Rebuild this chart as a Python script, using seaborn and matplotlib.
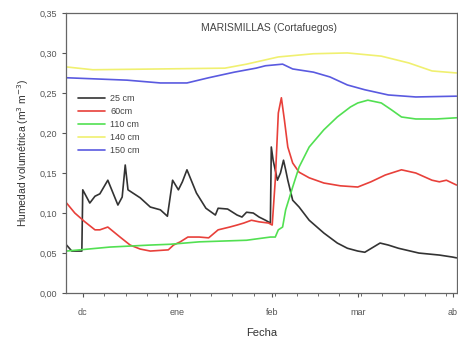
import numpy as np
import pandas as pd
import matplotlib
matplotlib.use("Agg")
import matplotlib.pyplot as plt
import seaborn as sns

# --- datos (día desde el 1 de diciembre, humedad m3/m3) ---
dia_25 = [-5.3, -3.6, -1.0, -0.3, 0.0, 2.3, 4.0, 5.6, 8.2, 11.5, 12.9, 13.9, 14.8, 18.8,
          22.1, 25.4, 27.7, 29.4, 31.3, 32.6, 34.1, 37.2, 40.3, 43.4, 44.3, 47.4, 50.5,
          52.1, 53.6, 55.8, 57.7, 59.8, 61.4, 61.7, 62.3, 63.7, 64.7, 65.7, 66.4, 67.1,
          68.7, 70.8, 74.1, 78.9, 83.3, 86.6, 90.0, 92.3, 97.3, 100.0, 103.3, 110.0,
          116.7, 121.0, 122.3]
hum_25 = [0.060, 0.0525, 0.0525, 0.0525, 0.129, 0.1125, 0.121, 0.124, 0.141, 0.110, 0.120,
          0.160, 0.129, 0.119, 0.1075, 0.104, 0.096, 0.141, 0.129, 0.139, 0.154, 0.125,
          0.106, 0.0975, 0.106, 0.105, 0.0975, 0.095, 0.101, 0.100, 0.095, 0.091, 0.0875,
          0.1825, 0.166, 0.141, 0.150, 0.166, 0.154, 0.141, 0.116, 0.1075, 0.091, 0.075,
          0.0625, 0.056, 0.0525, 0.051, 0.0625, 0.060, 0.056, 0.050, 0.0475, 0.045, 0.044]

dia_60 = [-5.3, -2.6, 0.7, 4.0, 5.6, 8.2, 12.2, 15.5, 18.8, 22.1, 28.0, 29.7, 31.9, 34.4,
          38.1, 41.2, 44.3, 48.1, 50.5, 52.7, 55.2, 57.7, 60.8, 62.0, 63.0, 64.0, 65.0,
          66.0, 67.1, 68.7, 70.8, 74.1, 78.9, 84.3, 90.0, 94.3, 99.0, 104.3, 109.0, 114.3,
          116.7, 119.0, 122.3]
hum_60 = [0.1125, 0.100, 0.089, 0.079, 0.079, 0.0825, 0.070, 0.060, 0.055, 0.0525, 0.054,
          0.060, 0.064, 0.070, 0.070, 0.069, 0.079, 0.0825, 0.085, 0.0875, 0.091, 0.089,
          0.0875, 0.085, 0.141, 0.225, 0.244, 0.216, 0.1825, 0.1625, 0.151, 0.144, 0.1375,
          0.134, 0.1325, 0.139, 0.1475, 0.154, 0.150, 0.141, 0.139, 0.141, 0.135]

dia_110 = [-5.3, -1.0, 8.9, 22.1, 28.7, 38.1, 53.6, 61.4, 63.0, 64.0, 65.4, 66.4, 68.7,
           70.8, 74.1, 78.9, 83.3, 87.6, 90.0, 93.3, 97.7, 101.0, 104.3, 109.0, 115.7, 122.3]
hum_110 = [0.0525, 0.054, 0.0575, 0.060, 0.061, 0.064, 0.066, 0.070, 0.070, 0.079, 0.0825,
           0.104, 0.1325, 0.1575, 0.1825, 0.204, 0.220, 0.2325, 0.2375, 0.241, 0.2375,
           0.229, 0.220, 0.2175, 0.2175, 0.219]

dia_140 = [-5.3, 3.3, 25.4, 46.5, 53.6, 64.0, 75.5, 86.6, 97.7, 106.7, 114.3, 122.3]
hum_140 = [0.2825, 0.279, 0.280, 0.281, 0.286, 0.295, 0.299, 0.300, 0.296, 0.2875, 0.2775, 0.275]

dia_150 = [-5.3, 14.5, 25.4, 34.1, 41.2, 49.6, 56.7, 59.8, 65.4, 68.7, 75.5, 80.9, 86.6,
           92.3, 100.0, 109.0, 122.3]
hum_150 = [0.269, 0.266, 0.2625, 0.2625, 0.269, 0.276, 0.281, 0.284, 0.286, 0.280, 0.276,
           0.270, 0.260, 0.254, 0.2475, 0.245, 0.246]

series = ["25 cm", "60cm", "110 cm", "140 cm", "150 cm"]
colores = ["#333333", "#e8403a", "#52e052", "#f0f070", "#5a5ae0"]

meses_pos = [0, 31, 62, 90, 121]
meses_lab = ["dc", "ene", "feb", "mar", "ab"]

# tabla larga para seaborn
partes = []
for nombre, d, h in zip(series, [dia_25, dia_60, dia_110, dia_140, dia_150],
                        [hum_25, hum_60, hum_110, hum_140, hum_150]):
    partes.append(pd.DataFrame({"dia": d, "hum": h, "serie": nombre}))
df = pd.concat(partes, ignore_index=True)

sns.set_style("ticks")
plt.rcParams["font.family"] = ["Liberation Sans", "DejaVu Sans"]

fig = plt.figure(figsize=(4.58, 3.40), dpi=100)
ax = fig.add_axes([0.144, 0.138, 0.854, 0.824])

sns.lineplot(data=df, x="dia", y="hum", hue="serie", hue_order=series,
             palette=colores, estimator=None, sort=False, lw=1.2, ax=ax)

ax.set_xlim(-5.5, 122.5)
ax.set_ylim(0, 0.35)
ax.set_yticks(np.arange(0, 0.351, 0.05))
ax.set_yticklabels([f"{v:.2f}".replace(".", ",") for v in np.arange(0, 0.351, 0.05)])
ax.set_xticks(meses_pos)
ax.set_xticklabels(meses_lab)
ax.set_xticks(np.arange(0, 122, 7), minor=True)

gris = "#555555"
ax.tick_params(axis="both", labelsize=6.5, colors=gris, length=3, width=0.8, direction="out")
ax.tick_params(axis="x", which="minor", length=2, color=gris)
ax.tick_params(axis="x", pad=8)
for s in ax.spines.values():
    s.set_color("#666666")
    s.set_linewidth(0.9)

ax.set_xlabel("Fecha", fontsize=8, color="#333333", labelpad=8)
ax.set_ylabel("Humedad volumétrica (m$^3$ m$^{-3}$)", fontsize=7.5, color="#333333", labelpad=6)
ax.text(0.52, 0.945, "MARISMILLAS (Cortafuegos)", transform=ax.transAxes,
        ha="center", va="center", fontsize=7.5, color="#444444")

ax.legend(loc="upper left", bbox_to_anchor=(0.01, 0.74), frameon=False, fontsize=6.5,
          handlelength=3.0, labelspacing=0.45, handletextpad=0.6, labelcolor="#444444")

fig.savefig("out.png", dpi=100)
